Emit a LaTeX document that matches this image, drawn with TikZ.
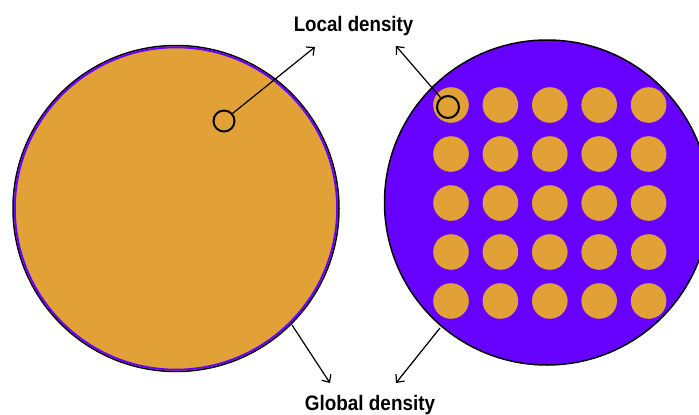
\documentclass[tikz,border=0pt]{standalone}
\usepackage{fontspec}
\setmainfont{Liberation Sans}
\usetikzlibrary{arrows.meta}
\definecolor{gold}{RGB}{225,161,54}
\definecolor{violet}{RGB}{102,0,255}

\begin{document}
\begin{tikzpicture}[x=1pt, y=-1pt,
    arr/.style={-{Straight Barb[length=6pt,width=11pt]}, line width=1.2pt, black},
    lbl/.style={font=\fontsize{21}{25}\selectfont\bfseries, inner sep=0pt, anchor=base}]
    \useasboundingbox (0,0) rectangle (699,415);
    \clip (0,0) rectangle (699,415);

    \coordinate (L) at (176,208.5);
    \coordinate (R) at (547,202.5);
    \coordinate (A) at (224,121);
    \coordinate (B) at (448,107);
    \coordinate (A1) at (232.5,113.5);
    \coordinate (B1) at (440.5,97.5);
    \coordinate (X1) at (315,47);
    \coordinate (X2) at (396,46);
    \coordinate (G1) at (292,325);
    \coordinate (G2) at (440,328);
    \coordinate (Y1) at (330,383);
    \coordinate (Y2) at (396,383);

    % wafers
    \draw[line width=1.5pt, fill=gold] (L) circle (163);
    \draw[violet, line width=2pt] (L) circle (161.2);
    \draw[line width=1.5pt, fill=violet] (R) circle (162.5);
    \foreach \i in {0,...,4}
        \foreach \j in {0,...,4}
            \fill[gold] (451+49.4*\i, 105+49*\j) circle (17.8);

    % probes
    \draw[line width=2pt] (A) circle (10.5);
    \draw[line width=2pt] (B) circle (11);

    \node[lbl] (local) at (353.5,31) {\scalebox{0.89}[1]{Local density}};
    \node[lbl] (global) at (370,410) {\scalebox{0.9}[1]{Global density}};

    \draw[arr] (A1) -- (X1);
    \draw[arr] (B1) -- (X2);
    \draw[arr] (G1) -- (Y1);
    \draw[arr] (G2) -- (Y2);
\end{tikzpicture}
\end{document}
